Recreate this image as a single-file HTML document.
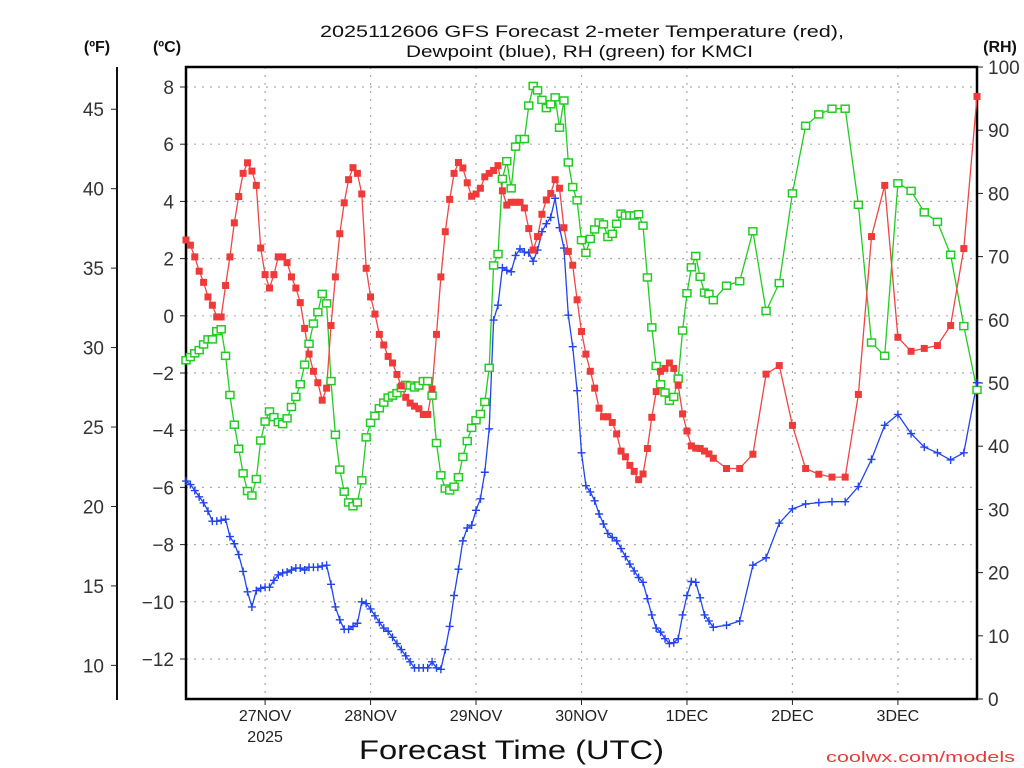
<!DOCTYPE html>
<html><head><meta charset="utf-8">
<style>
html,body{margin:0;padding:0;background:#fff;}
svg{display:block;font-family:"Liberation Sans",sans-serif;}
</style></head>
<body>
<svg id="chart" width="1024" height="768" viewBox="0 0 1024 768" xmlns="http://www.w3.org/2000/svg">
<g id="grid"></g>
<g id="axes"></g>
<g id="series"></g>
<text x="320" y="37" textLength="524" lengthAdjust="spacingAndGlyphs" font-size="17" fill="#111">2025112606 GFS Forecast 2-meter Temperature (red),</text>
<text x="406" y="57" textLength="347" lengthAdjust="spacingAndGlyphs" font-size="17" fill="#111">Dewpoint (blue), RH (green) for KMCI</text>
<text x="97" y="52" text-anchor="middle" font-size="16" font-weight="bold" fill="#111">(ºF)</text>
<text x="167" y="52" text-anchor="middle" font-size="16" font-weight="bold" fill="#111">(ºC)</text>
<text x="1000" y="52" text-anchor="middle" font-size="16" font-weight="bold" fill="#111">(RH)</text>
<text x="359" y="759" textLength="305" lengthAdjust="spacingAndGlyphs" font-size="27" fill="#111">Forecast Time (UTC)</text>
<text x="826" y="762" textLength="189" lengthAdjust="spacingAndGlyphs" font-size="15" fill="#e83a3a">coolwx.com/models</text>
</svg>
<script>
const hours=[0,1,2,3,4,5,6,7,8,9,10,11,12,13,14,15,16,17,18,19,20,21,22,23,24,25,26,27,28,29,30,31,32,33,34,35,36,37,38,39,40,41,42,43,44,45,46,47,48,49,50,51,52,53,54,55,56,57,58,59,60,61,62,63,64,65,66,67,68,69,70,71,72,73,74,75,76,77,78,79,80,81,82,83,84,85,86,87,88,89,90,91,92,93,94,95,96,97,98,99,100,101,102,103,104,105,106,107,108,109,110,111,112,113,114,115,116,117,118,119,120,123,126,129,132,135,138,141,144,147,150,153,156,159,162,165,168,171,174,177,180];
const tempC=[2.65,2.47,2.06,1.56,1.17,0.66,0.37,-0.04,-0.04,1.06,2.06,3.25,4.17,4.98,5.35,5.06,4.56,2.37,1.44,0.97,1.44,2.06,2.06,1.86,1.36,0.97,0.46,-0.44,-1.34,-1.94,-2.34,-2.95,-2.53,-0.34,1.36,2.87,3.95,4.76,5.18,4.98,4.26,1.66,0.66,0.06,-0.65,-1.02,-1.42,-1.65,-2.05,-2.45,-2.85,-3.05,-3.16,-3.25,-3.45,-3.45,-2.56,-0.65,1.36,2.94,4.07,4.98,5.36,5.17,4.65,4.18,4.26,4.46,4.86,4.98,5.08,5.25,4.37,3.87,3.97,3.97,3.97,3.77,3.05,2.30,2.77,3.55,4.05,4.28,4.76,4.46,3.08,2.25,1.77,0.56,-0.55,-1.34,-1.94,-2.53,-3.23,-3.53,-3.53,-3.73,-4.13,-4.73,-4.93,-5.23,-5.44,-5.73,-5.53,-4.64,-3.55,-2.65,-1.94,-1.84,-1.65,-1.84,-2.43,-3.43,-4.03,-4.55,-4.63,-4.64,-4.73,-4.83,-4.98,-5.34,-5.34,-4.84,-2.04,-1.74,-3.83,-5.34,-5.54,-5.64,-5.64,-2.75,2.77,4.56,-0.75,-1.24,-1.14,-1.04,-0.34,2.35,7.67];
const dewC=[-5.78,-5.90,-6.11,-6.33,-6.54,-6.83,-7.18,-7.18,-7.15,-7.11,-7.72,-7.97,-8.35,-8.94,-9.65,-10.18,-9.61,-9.53,-9.49,-9.49,-9.25,-9.06,-8.99,-8.96,-8.89,-8.82,-8.82,-8.89,-8.79,-8.79,-8.79,-8.75,-8.72,-9.39,-10.18,-10.63,-10.96,-10.96,-10.86,-10.75,-10.0,-10.06,-10.25,-10.49,-10.72,-10.92,-11.03,-11.24,-11.46,-11.67,-11.89,-12.10,-12.31,-12.31,-12.31,-12.31,-12.10,-12.31,-12.36,-11.67,-10.86,-9.78,-8.86,-7.87,-7.42,-7.32,-6.80,-6.40,-5.47,-3.95,-0.15,0.37,1.68,1.59,1.54,2.11,2.34,2.23,2.20,1.91,2.30,2.94,3.22,3.44,4.11,3.08,2.37,0.02,-1.08,-2.62,-4.79,-5.94,-6.16,-6.47,-6.93,-7.28,-7.61,-7.75,-7.87,-8.14,-8.42,-8.68,-8.92,-9.15,-9.32,-9.89,-10.46,-10.92,-11.06,-11.29,-11.46,-11.43,-11.29,-10.46,-9.78,-9.29,-9.32,-9.86,-10.46,-10.67,-10.89,-10.82,-10.67,-8.72,-8.46,-7.25,-6.75,-6.58,-6.53,-6.50,-6.50,-5.97,-5.02,-3.83,-3.45,-4.12,-4.59,-4.79,-5.04,-4.79,-2.34];
const rhPct=[53.6,54.1,54.7,55.2,56.1,56.9,56.9,58.2,58.5,54.3,48.1,43.4,39.6,35.7,32.9,32.2,34.8,40.9,43.9,45.5,44.6,43.8,43.5,44.4,46.2,47.8,49.8,52.9,56.2,59.4,61.2,64.1,62.6,50.3,41.8,36.3,32.8,31.1,30.5,31.1,34.6,41.4,43.7,44.8,46.0,46.9,47.7,48.0,48.4,49.2,49.7,49.6,49.3,49.6,50.3,50.3,48.0,40.5,35.4,33.3,33.0,33.6,35.1,38.3,40.8,42.9,44.1,45.1,47.0,52.4,68.6,70.4,82.3,85.1,80.8,87.4,88.6,88.6,93.9,97.0,96.3,94.8,93.5,94.1,95.2,90.4,94.7,84.9,81.0,78.9,72.6,70.6,72.8,74.3,75.4,75.1,73.1,73.6,75.2,76.8,76.5,76.5,76.5,76.7,74.9,66.7,58.8,52.7,49.8,48.5,47.2,47.8,50.7,58.3,64.2,68.3,70.1,66.8,64.3,64.1,63.1,65.4,66.1,74.0,61.4,65.8,80.0,90.7,92.5,93.4,93.4,78.2,56.4,54.3,81.6,80.4,77.0,75.5,70.3,59.0,48.9];
const cTicks=[-12,-10,-8,-6,-4,-2,0,2,4,6,8];
const fTicks=[10,15,20,25,30,35,40,45];
const rhTicks=[0,10,20,30,40,50,60,70,80,90,100];
const dayHours=[18,42,66,90,114,138,162];
const dayLabels=["27NOV","28NOV","29NOV","30NOV","1DEC","2DEC","3DEC"];

const NS="http://www.w3.org/2000/svg";
const L=186,R=977,T=67,B=699;
function xS(h){return L+(h-0)/180*(R-L);}
function yC(c){return 87+(8-c)*28.6;}
function yF(f){return yC((f-32)*5/9);}
function yRH(r){return B-(r/100)*(B-T);}
function mk(tag,attrs,parent){const e=document.createElementNS(NS,tag);for(const k in attrs)e.setAttribute(k,attrs[k]);parent.appendChild(e);return e;}
const grid=document.getElementById('grid'),axes=document.getElementById('axes'),ser=document.getElementById('series');

cTicks.forEach(c=>{const y=yC(c);
 const g=mk('line',{x1:L,x2:R,y1:y,y2:y,stroke:'#aaa','stroke-width':1.2,'stroke-dasharray':'2,6'},grid);
 
 
 const t=mk('line',{x1:L-6,x2:L,y1:y,y2:y,stroke:'#222','stroke-width':1},axes);
 
 
 const lb=mk('text',{x:L-12,y:y+7,'text-anchor':'end','font-size':19,fill:'#333'},axes);
 lb.textContent=c<0?'\u2212'+Math.abs(c):String(c);
 
 
});
dayHours.forEach((h,i)=>{const x=xS(h);
 const g=mk('line',{x1:x,x2:x,y1:T,y2:B,stroke:'#aaa','stroke-width':1.2,'stroke-dasharray':'2,6'},grid);
 
 
 const t=mk('line',{x1:x,x2:x,y1:B,y2:B+6,stroke:'#222','stroke-width':1},axes);
 
 
 const lb=mk('text',{x:x,y:B+22,'text-anchor':'middle','font-size':16,fill:'#222'},axes);
 lb.textContent=dayLabels[i];
 
 
});
const yr=mk('text',{x:xS(18),y:B+43,'text-anchor':'middle','font-size':16,fill:'#222'},axes);
yr.textContent='2025';



const fl=mk('line',{x1:117,x2:117,y1:T,y2:B+1,stroke:'#111','stroke-width':2},axes);


fTicks.forEach(f=>{const y=yF(f);
 const t=mk('line',{x1:111,x2:117,y1:y,y2:y,stroke:'#222','stroke-width':1},axes);
 
 
 const lb=mk('text',{x:104,y:y+7,'text-anchor':'end','font-size':19,fill:'#333'},axes);
 lb.textContent=String(f);
 
 
});
rhTicks.forEach(r=>{const y=yRH(r);
 const t=mk('line',{x1:R,x2:R+6,y1:y,y2:y,stroke:'#222','stroke-width':1},axes);
 
 
 const lb=mk('text',{x:988,y:y+7,'text-anchor':'start','font-size':19,fill:'#333'},axes);
 lb.textContent=String(r);
 
 
});
const frame=mk('rect',{x:L,y:T,width:R-L,height:B-T,fill:'none',stroke:'#000','stroke-width':2.5},axes);



function line(vals,yf,color,name){
 const pts=hours.map((h,i)=>xS(h).toFixed(1)+','+yf(vals[i]).toFixed(1)).join(' ');
 const p=mk('polyline',{points:pts,fill:'none',stroke:color,'stroke-width':1.3},ser);
 
 
}
line(rhPct,yRH,'#22cc22','rh-line');
line(dewC,yC,'#2244ee','dewpoint-line');
line(tempC,yC,'#f04545','temperature-line');
hours.forEach((h,i)=>{const x=xS(h),y=yRH(rhPct[i]);
 const m=mk('rect',{x:x-4,y:y-3.5,width:8,height:7,fill:'#fff',stroke:'#22cc22','stroke-width':1.5},ser);
 
 
});
hours.forEach((h,i)=>{const x=xS(h),y=yC(dewC[i]);
 const m=mk('path',{d:`M${x-4},${y}H${x+4}M${x},${y-4}V${y+4}`,stroke:'#2244ee','stroke-width':1.4,fill:'none'},ser);
 
 
});
hours.forEach((h,i)=>{const x=xS(h),y=yC(tempC[i]);
 const m=mk('rect',{x:x-3.5,y:y-3.5,width:7,height:7,fill:'#f03a3a'},ser);
 
 
});
</script>
</body></html>
